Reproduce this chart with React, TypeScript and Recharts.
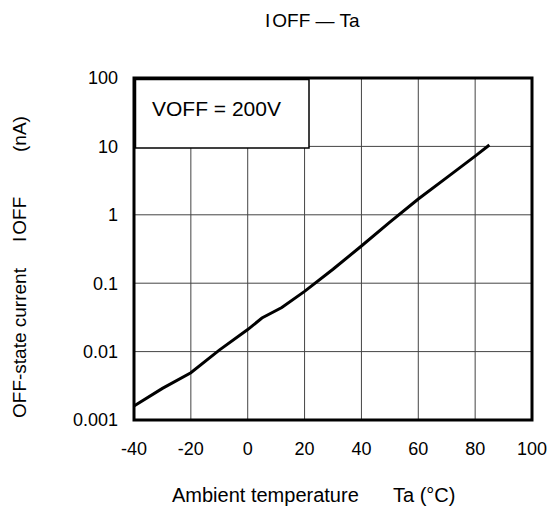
import { LineChart, Line, XAxis, YAxis, CartesianGrid, ReferenceArea } from 'recharts';

const temps = [-40, -30, -20, -10, 0, 5, 12, 20, 30, 40, 50, 60, 70, 80, 85];
const ioff = [0.0016, 0.0029, 0.0049, 0.0105, 0.021, 0.031, 0.044, 0.076, 0.16, 0.35, 0.78, 1.7, 3.5, 7.2, 10.5];
const xTicks = [-40, -20, 0, 20, 40, 60, 80, 100];
const yTicks = [0.001, 0.01, 0.1, 1, 10, 100];

const data = temps.map((t, i) => ({ ta: t, ioff: ioff[i] }));

const FONT = '"Liberation Sans", Arial, sans-serif';

export default function App() {
  return (
    <div style={{ position: 'absolute', left: 0, top: 0, width: 548, height: 511, background: '#fff' }}>
      <LineChart width={548} height={511} data={data} margin={{ top: 78, right: 16, bottom: 0, left: 0 }}>
        <CartesianGrid stroke="#444" strokeWidth={1} />
        <XAxis
          dataKey="ta"
          type="number"
          domain={[-40, 100]}
          ticks={xTicks}
          interval={0}
          height={91}
          axisLine={false}
          tickLine={false}
          tickSize={0}
          tickMargin={22}
          tick={{ fontSize: 18, fill: '#000', fontFamily: FONT }}
        />
        <YAxis
          type="number"
          scale="log"
          domain={[0.001, 100]}
          allowDataOverflow
          ticks={yTicks}
          interval={0}
          width={134}
          axisLine={false}
          tickLine={false}
          tickSize={0}
          tickMargin={16}
          tickFormatter={(v: number) => String(v)}
          tick={{ fontSize: 18, fill: '#000', fontFamily: FONT }}
        />
        <Line type="linear" dataKey="ioff" stroke="#000" strokeWidth={3} dot={false} isAnimationActive={false} />
        <ReferenceArea x1={-40} x2={100} y1={0.001} y2={100} fill="none" stroke="#000" strokeWidth={3} ifOverflow="visible" />
      </LineChart>
      <svg width={548} height={511} style={{ position: 'absolute', left: 0, top: 0, pointerEvents: 'none' }} fontFamily={FONT}>
        <text x={265} y={27} fontSize={19} fill="#000">
          I<tspan dx={2}>OFF — Ta</tspan>
        </text>
        <rect x={135.5} y={79.5} width={173.5} height={68.5} fill="#fff" stroke="#000" strokeWidth={1.5} />
        <text x={152} y={116} fontSize={21} fill="#000">VOFF = 200V</text>
        <g transform="rotate(-90)" fontSize={19} fill="#000">
          <text x={-418} y={26}>OFF-state current</text>
          <text x={-242} y={26}>I<tspan dx={2}>OFF</tspan></text>
          <text x={-152} y={26}>(nA)</text>
        </g>
        <text x={172} y={502} fontSize={20} fill="#000">Ambient temperature</text>
        <text x={393} y={502} fontSize={20} fill="#000">Ta (°C)</text>
      </svg>
    </div>
  );
}
